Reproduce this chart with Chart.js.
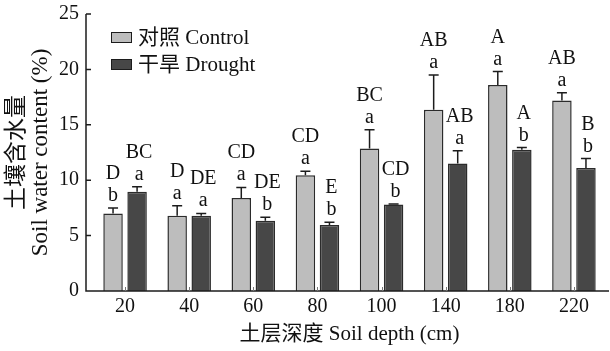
<!DOCTYPE html>
<html>
<head>
<meta charset="utf-8">
<script src="https://cdn.jsdelivr.net/npm/chart.js@4.4.1/dist/chart.umd.min.js"></script>
<style>
  html, body { margin: 0; padding: 0; background: #fff; }
  canvas { display: block; }
</style>
</head>
<body>
<canvas id="soilChart" width="610" height="351"></canvas>
<script>
// soil depth categories (cm)
const depths = ['20', '40', '60', '80', '100', '140', '180', '220'];

// mean soil water content (%) and standard error
const controlMean = [7.0, 6.8, 8.4, 10.45, 12.85, 16.35, 18.6, 17.2];
const controlErr = [0.5, 0.9, 0.95, 0.35, 1.7, 3.15, 1.2, 0.7];
const droughtMean = [8.95, 6.8, 6.35, 5.95, 7.8, 11.5, 12.75, 11.1];
const droughtErr = [0.45, 0.2, 0.3, 0.25, 0.05, 1.15, 0.2, 0.85];

// significance letters: upper case across depths, lower case between treatments
const controlDepthLetters = ['D', 'D', 'CD', 'CD', 'BC', 'AB', 'A', 'AB'];
const droughtDepthLetters = ['BC', 'DE', 'DE', 'E', 'CD', 'AB', 'A', 'B'];
const controlTreatLetters = ['b', 'a', 'a', 'a', 'a', 'a', 'a', 'a'];
const droughtTreatLetters = ['a', 'a', 'b', 'b', 'b', 'a', 'b', 'b'];

const yTicks = [0, 5, 10, 15, 20, 25];

const SERIF = '"Liberation Serif", "Times New Roman", "Noto Sans CJK SC", serif';
const LIGHT = '#bdbdbd';
const DARK = '#474747';
const INK = '#1c1c1c';

const errors = [controlErr, droughtErr];
const upperLetters = [controlDepthLetters, droughtDepthLetters];
const lowerLetters = [controlTreatLetters, droughtTreatLetters];

// axes, error bars, letters and legend drawn on top of the bars
const decorPlugin = {
  id: 'decor',
  afterDatasetsDraw(chart) {
    const { ctx, chartArea, scales: { x, y } } = chart;
    const axisX = chartArea.left - 7;
    const y0 = y.getPixelForValue(0);
    ctx.save();

    // axis lines
    ctx.strokeStyle = INK;
    ctx.lineWidth = 1.5;
    ctx.beginPath();
    ctx.moveTo(axisX, y.getPixelForValue(yTicks[yTicks.length - 1]));
    ctx.lineTo(axisX, y0);
    ctx.lineTo(chartArea.right + 3, y0);
    yTicks.forEach(v => {
      const py = y.getPixelForValue(v);
      ctx.moveTo(axisX, py);
      ctx.lineTo(axisX + 5, py);
    });
    ctx.stroke();

    // short inner ticks at category centres
    ctx.strokeStyle = '#777';
    ctx.lineWidth = 1;
    ctx.beginPath();
    depths.forEach((d, i) => {
      const px = Math.round(x.getPixelForValue(i)) + 0.5;
      ctx.moveTo(px, y0);
      ctx.lineTo(px, y0 - 4);
    });
    ctx.stroke();

    // error bars + letters
    ctx.font = '20px ' + SERIF;
    ctx.textAlign = 'center';
    ctx.textBaseline = 'alphabetic';
    chart.data.datasets.forEach((ds, d) => {
      const meta = chart.getDatasetMeta(d);
      meta.data.forEach((bar, i) => {
        const top = y.getPixelForValue(ds.data[i] + errors[d][i]);
        ctx.strokeStyle = INK;
        ctx.lineWidth = 1.5;
        ctx.beginPath();
        ctx.moveTo(bar.x, bar.y);
        ctx.lineTo(bar.x, top);
        ctx.moveTo(bar.x - 5, top);
        ctx.lineTo(bar.x + 5, top);
        ctx.stroke();

        const tx = bar.x + (d === 1 ? 2 : 0);
        ctx.fillStyle = '#111';
        ctx.fillText(lowerLetters[d][i], tx, top - 7);
        ctx.fillText(upperLetters[d][i], tx, top - 29);
      });
    });

    // legend
    ctx.font = '21px ' + SERIF;
    chart.data.datasets.forEach((ds, d) => {
      const bx = 111, by = 32 + d * 27;
      ctx.fillStyle = ds.backgroundColor;
      ctx.fillRect(bx, by, 20, 10);
      ctx.strokeStyle = INK;
      ctx.lineWidth = 1;
      ctx.strokeRect(bx + 0.5, by + 0.5, 20, 10);
      ctx.fillStyle = '#111';
      ctx.textAlign = 'left';
      ctx.textBaseline = 'middle';
      ctx.fillText(ds.label, 138, by + 6);
    });

    ctx.restore();
  }
};

new Chart(document.getElementById('soilChart'), {
  type: 'bar',
  data: {
    labels: depths,
    datasets: [
      { label: '对照 Control', data: controlMean, backgroundColor: LIGHT,
        borderColor: '#2b2b2b', borderWidth: 1.5 },
      { label: '干旱 Drought', data: droughtMean, backgroundColor: DARK,
        borderColor: '#2b2b2b', borderWidth: 1.5 }
    ]
  },
  options: {
    responsive: false,
    animation: false,
    events: [],
    categoryPercentage: 0.75,
    barPercentage: 0.81,
    layout: { padding: { left: 0, right: 4, top: 14, bottom: 0 } },
    plugins: {
      legend: { display: false },
      tooltip: { enabled: false }
    },
    scales: {
      x: {
        grid: { display: false, drawTicks: false },
        border: { display: false },
        ticks: { color: '#111', padding: 4, font: { family: SERIF, size: 20 } },
        title: {
          display: true,
          text: '土层深度 Soil depth (cm)',
          color: '#111',
          font: { family: SERIF, size: 21, lineHeight: 1.1 },
          padding: { top: 0, bottom: 5 }
        },
        afterFit(scale) {
          scale.height = 60;
          scale.paddingLeft = 0;
          scale.paddingRight = 0;
        }
      },
      y: {
        min: 0,
        max: 25,
        grid: { display: false, drawTicks: false },
        border: { display: false },
        ticks: { stepSize: 5, color: '#111', padding: 14, font: { family: SERIF, size: 20 } },
        title: {
          display: true,
          text: ['土壤含水量', 'Soil water content (%)'],
          color: '#111',
          font: { family: SERIF, size: 23, lineHeight: 1.05 },
          padding: { top: 5, bottom: 0 }
        },
        afterFit(scale) {
          scale.width = 93;
          scale.paddingTop = 0;
          scale.paddingBottom = 0;
        }
      }
    }
  },
  plugins: [decorPlugin]
});
</script>
</body>
</html>
